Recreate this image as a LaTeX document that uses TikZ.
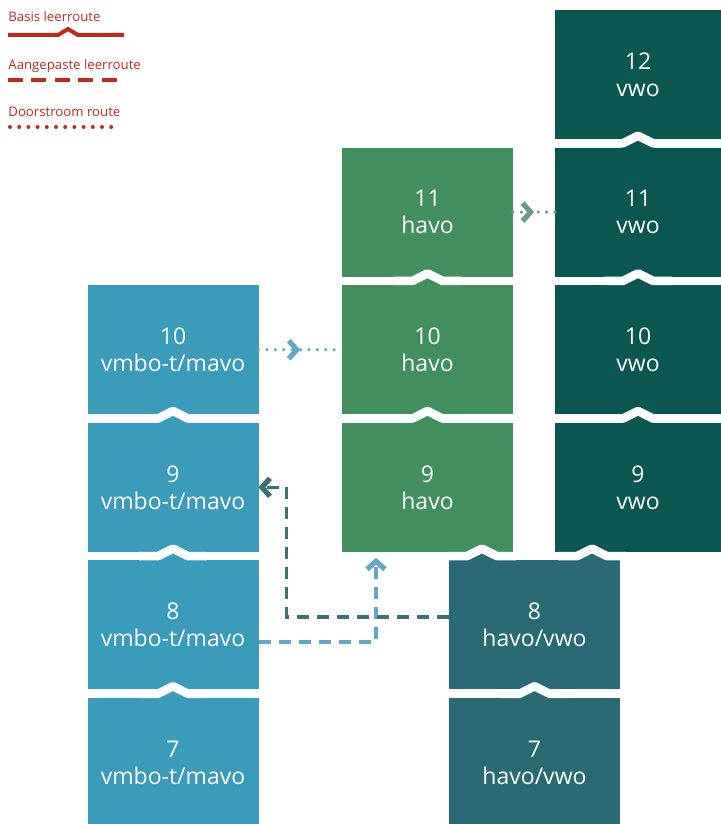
\documentclass[tikz,border=0pt]{standalone}
\usepackage{fontspec}
\setmainfont{Open Sans}
\usetikzlibrary{arrows.meta, positioning, calc, decorations.markings}
\definecolor{vmboblue}{RGB}{58, 155, 186}
\definecolor{havogreen}{RGB}{64, 143, 92}
\definecolor{vwoteal}{RGB}{10, 86, 80}
\definecolor{hvteal}{RGB}{42, 106, 117}
\definecolor{routered}{RGB}{192, 42, 30}
\definecolor{dotblue}{RGB}{98, 168, 196}
\definecolor{dotgreen}{RGB}{110, 152, 140}
\definecolor{dashdark}{RGB}{62, 110, 120}
% bump in the gap between two years: lower box gets a point, white band over it
\newcommand{\yearnotch}[3]{%
  \fill[#3] (#1-18,#2+4.5) -- (#1,#2-3.6) -- (#1+18,#2+4.5) -- cycle;
  \draw[notch] (#1-34,#2) -- (#1-15,#2) -- (#1,#2-7.5) -- (#1+15,#2) -- (#1+34,#2);}

\begin{document}
\begin{tikzpicture}[x=0.5pt, y=-0.5pt,
  yearbox/.style={rectangle, minimum width=85.5pt, minimum height=64.5pt, inner sep=0pt, outer sep=0pt,
    text=white, align=center, font=\fontsize{11.5}{13.5}\selectfont},
  notch/.style={draw=white, line width=4.3pt, line join=round},
  legendtext/.style={anchor=west, inner sep=0pt, text=routered, font=\fontsize{6.6}{8}\selectfont},
  chev/.tip={Straight Barb[length=4pt, width=9pt, line width=2.6pt]},
  aangepast/.style={line width=1.6pt, dash pattern=on 6pt off 4pt},
  doorstroom/.style={line width=1.8pt, line cap=round, dash pattern=on 0pt off 4.2pt},
  midchevron/.style={postaction={decorate}, decoration={markings, mark=at position 0.5 with {\arrow{chev}}}}]
  \useasboundingbox (0,0) rectangle (721,824);

  % Legend
  \node[legendtext] (basislabel) at (8,17) {Basis leerroute};
  \draw[routered, line width=2pt] (8,35) -- (58,35) -- (68,29) -- (78,35) -- (124,35);
  \node[legendtext] (aangepastlabel) at (8,66) {Aangepaste leerroute};
  \draw[routered, line width=2pt, dash pattern=on 7.5pt off 4.2pt] (8,80) -- (118,80);
  \node[legendtext] (doorstroomlabel) at (8,112) {Doorstroom route};
  \draw[routered, line width=2pt, line cap=round, dash pattern=on 0pt off 4.6pt] (10,127) -- (120,127);

  % vmbo-t/mavo
  \node[yearbox, fill=vmboblue] (vmbo10) at (173,349.7) {10\\vmbo-t/mavo};
  \node[yearbox, fill=vmboblue] (vmbo9) at (173,487.3) {9\\vmbo-t/mavo};
  \node[yearbox, fill=vmboblue] (vmbo8) at (173,624.9) {8\\vmbo-t/mavo};
  \node[yearbox, fill=vmboblue] (vmbo7) at (173,762.5) {7\\vmbo-t/mavo};

  % havo
  \node[yearbox, fill=havogreen] (havo11) at (427.5,212.1) {11\\havo};
  \node[yearbox, fill=havogreen] (havo10) at (427.5,349.7) {10\\havo};
  \node[yearbox, fill=havogreen] (havo9) at (427.5,487.3) {9\\havo};

  % vwo
  \node[yearbox, fill=vwoteal, minimum width=83pt] (vwo12) at (638,74.5) {12\\vwo};
  \node[yearbox, fill=vwoteal, minimum width=83pt] (vwo11) at (638,212.1) {11\\vwo};
  \node[yearbox, fill=vwoteal, minimum width=83pt] (vwo10) at (638,349.7) {10\\vwo};
  \node[yearbox, fill=vwoteal, minimum width=83pt] (vwo9) at (638,487.3) {9\\vwo};

  % havo/vwo
  \node[yearbox, fill=hvteal] (hv8) at (534.5,624.9) {8\\havo/vwo};
  \node[yearbox, fill=hvteal] (hv7) at (534.5,762.5) {7\\havo/vwo};

  % Notches between the years
  \foreach \cx/\gy/\col in {638/143.3/vwoteal, 638/280.9/vwoteal, 638/418.5/vwoteal, 592/556.1/hvteal,
                       427.5/280.9/havogreen, 427.5/418.5/havogreen, 482/556.1/hvteal,
                       173/418.5/vmboblue, 173/556.1/vmboblue, 173/693.7/vmboblue, 534.5/693.7/hvteal}
    {\yearnotch{\cx}{\gy}{\col}}

  % Routes
  \draw[doorstroom, dotblue, midchevron] (vmbo10.east) -- (havo10.west);
  \draw[doorstroom, dotgreen, midchevron] (havo11.east) -- (vwo11.west);
  \draw[aangepast, dotblue, -chev] ([yshift=-8.5pt]vmbo8.east) -| ([xshift=17pt, yshift=-3pt]havo9.south west);
  \draw[aangepast, dashdark, -chev] ([yshift=4pt]hv8.west) -| ($(vmbo9.east)+(28,0)$) -- (vmbo9.east);
\end{tikzpicture}
\end{document}
